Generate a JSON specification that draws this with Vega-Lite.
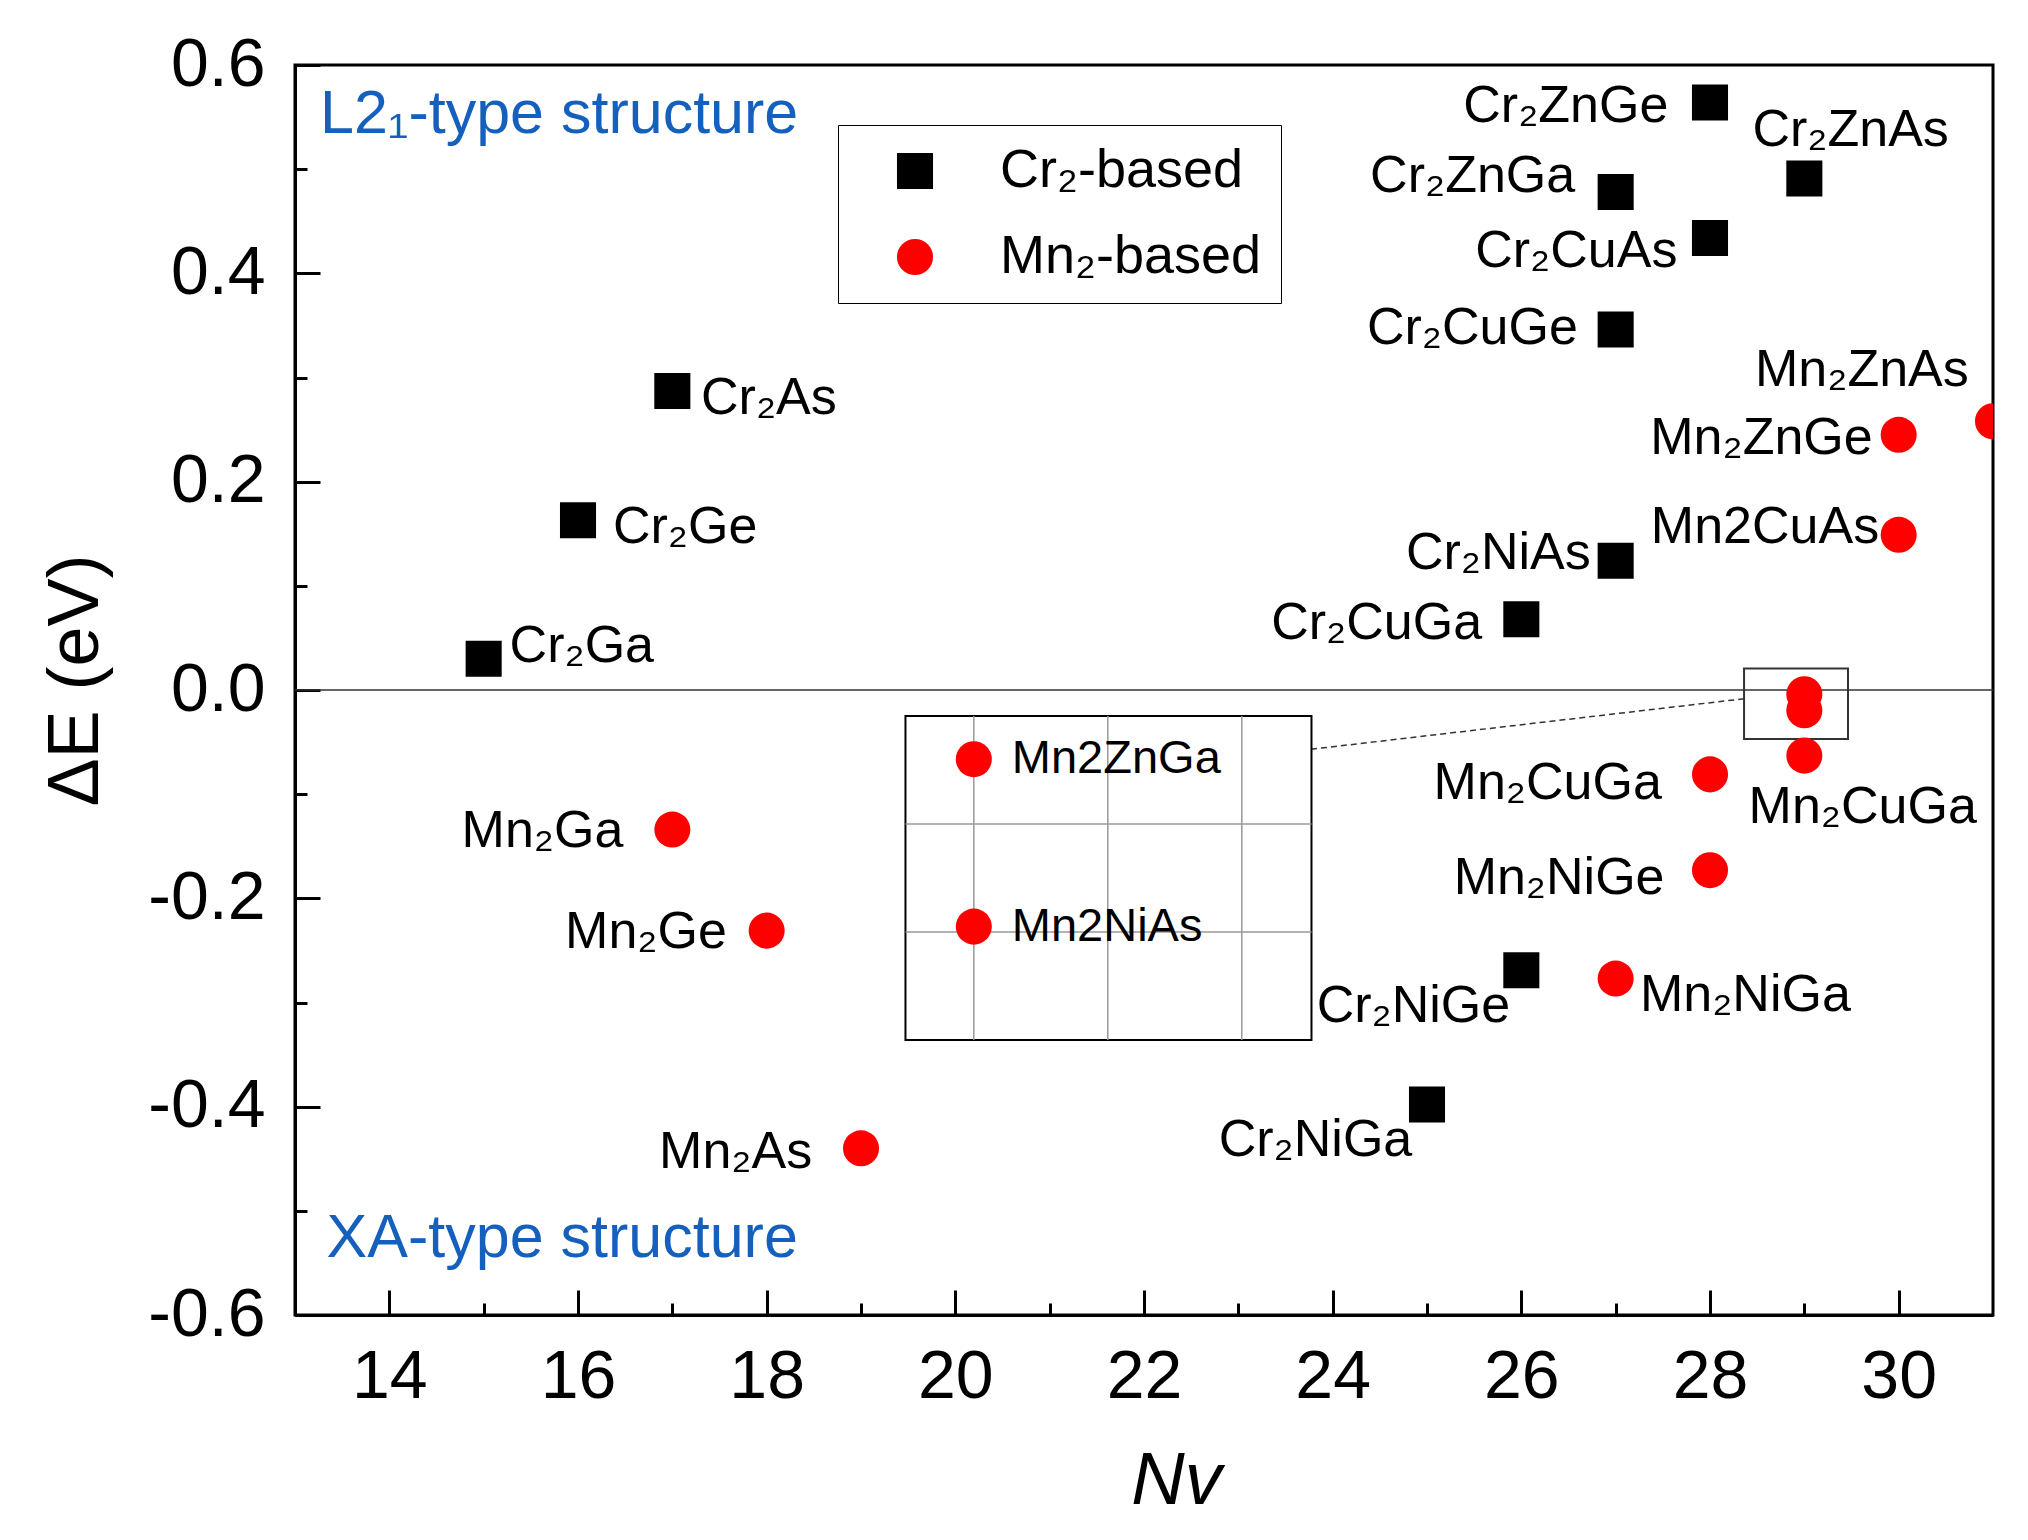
{
  "$schema": "https://vega.github.io/schema/vega-lite/v6.json",
  "width": 1698,
  "height": 1250,
  "autosize": {"type": "none"},
  "padding": {"left": 295, "top": 65, "right": 35, "bottom": 225},
  "background": "white",
  "config": {
    "font": "Liberation Sans",
    "view": {"stroke": "black", "strokeWidth": 3},
    "axis": {"domainColor": "black", "domainWidth": 3, "tickColor": "black", "labelColor": "black", "titleColor": "black", "grid": false, "labelFont": "Liberation Sans", "titleFont": "Liberation Sans", "titleFontWeight": "normal", "labelFlush": false, "labelOverlap": false}
  },
  "data": {"values": [{}]},
  "datasets": {
    "pts": [
      {"name": "Cr₂Ga", "group": "Cr₂-based", "nv": 15, "de": 0.030, "side": "R", "lx": 15.275, "ly": 0.0267},
      {"name": "Cr₂Ge", "group": "Cr₂-based", "nv": 16, "de": 0.163, "side": "R", "lx": 16.371, "ly": 0.1408},
      {"name": "Cr₂As", "group": "Cr₂-based", "nv": 17, "de": 0.287, "side": "R", "lx": 17.304, "ly": 0.2649},
      {"name": "Cr₂ZnGe", "group": "Cr₂-based", "nv": 28, "de": 0.564, "side": "L", "lx": 27.559, "ly": 0.5454},
      {"name": "Cr₂ZnAs", "group": "Cr₂-based", "nv": 29, "de": 0.491, "side": "R", "lx": 28.450, "ly": 0.5218},
      {"name": "Cr₂ZnGa", "group": "Cr₂-based", "nv": 27, "de": 0.478, "side": "L", "lx": 26.571, "ly": 0.4784},
      {"name": "Cr₂CuAs", "group": "Cr₂-based", "nv": 28, "de": 0.434, "side": "L", "lx": 27.655, "ly": 0.4064},
      {"name": "Cr₂CuGe", "group": "Cr₂-based", "nv": 27, "de": 0.346, "side": "L", "lx": 26.599, "ly": 0.3319},
      {"name": "Cr₂NiAs", "group": "Cr₂-based", "nv": 27, "de": 0.124, "side": "L", "lx": 26.736, "ly": 0.1160},
      {"name": "Cr₂CuGa", "group": "Cr₂-based", "nv": 26, "de": 0.068, "side": "L", "lx": 25.584, "ly": 0.0490},
      {"name": "Cr₂NiGe", "group": "Cr₂-based", "nv": 26, "de": -0.269, "side": "R", "lx": 23.830, "ly": -0.3183},
      {"name": "Cr₂NiGa", "group": "Cr₂-based", "nv": 25, "de": -0.398, "side": "L", "lx": 24.844, "ly": -0.4474},
      {"name": "Mn₂ZnAs", "group": "Mn₂-based", "nv": 31, "de": 0.258, "side": "R", "lx": 28.477, "ly": 0.2922},
      {"name": "Mn₂ZnGe", "group": "Mn₂-based", "nv": 30, "de": 0.245, "side": "L", "lx": 29.725, "ly": 0.2265},
      {"name": "Mn2CuAs", "group": "Mn₂-based", "nv": 30, "de": 0.149, "side": "L", "lx": 29.793, "ly": 0.1408},
      {"name": "Mn2ZnGa", "group": "Mn₂-based", "nv": 29, "de": -0.004, "side": "none", "lx": 29, "ly": -0.004},
      {"name": "Mn2NiAs", "group": "Mn₂-based", "nv": 29, "de": -0.0195, "side": "none", "lx": 29, "ly": -0.0195},
      {"name": "Mn₂CuGa", "group": "Mn₂-based", "nv": 29, "de": -0.063, "side": "R", "lx": 28.409, "ly": -0.1272},
      {"name": "Mn₂CuGa", "group": "Mn₂-based", "nv": 28, "de": -0.081, "side": "L", "lx": 27.490, "ly": -0.1049},
      {"name": "Mn₂NiGe", "group": "Mn₂-based", "nv": 28, "de": -0.173, "side": "L", "lx": 27.518, "ly": -0.1955},
      {"name": "Mn₂NiGa", "group": "Mn₂-based", "nv": 27, "de": -0.277, "side": "R", "lx": 27.257, "ly": -0.3084},
      {"name": "Mn₂Ga", "group": "Mn₂-based", "nv": 17, "de": -0.134, "side": "L", "lx": 16.481, "ly": -0.1508},
      {"name": "Mn₂Ge", "group": "Mn₂-based", "nv": 18, "de": -0.231, "side": "L", "lx": 17.578, "ly": -0.2476},
      {"name": "Mn₂As", "group": "Mn₂-based", "nv": 19, "de": -0.440, "side": "L", "lx": 18.483, "ly": -0.4586}
    ]
  },
  "layer": [
    {
      "layer": [
        {
          "mark": {"type": "rule", "color": "#333333", "strokeWidth": 1.5},
          "encoding": {
            "y": {"datum": 0, "type": "quantitative", "scale": {"domain": [-0.6, 0.6], "nice": false, "zero": false}, "axis": null}
          }
        },
        {
          "mark": {"type": "rect", "fill": null, "fillOpacity": 0, "stroke": "#333333", "strokeWidth": 2},
          "encoding": {
            "x": {"datum": 28.361, "type": "quantitative", "scale": {"domain": [13, 31], "nice": false, "zero": false}, "axis": null},
            "x2": {"datum": 29.463},
            "y": {"datum": 0.0206, "type": "quantitative", "scale": {"domain": [-0.6, 0.6], "nice": false, "zero": false}, "axis": null},
            "y2": {"datum": -0.047}
          }
        },
        {
          "mark": {"type": "rule", "color": "#333333", "strokeWidth": 1.5, "strokeDash": [6, 4]},
          "encoding": {
            "x": {"datum": 23.771, "type": "quantitative", "scale": {"domain": [13, 31], "nice": false, "zero": false}, "axis": null},
            "x2": {"datum": 28.361},
            "y": {"datum": -0.0569, "type": "quantitative", "scale": {"domain": [-0.6, 0.6], "nice": false, "zero": false}, "axis": null},
            "y2": {"datum": -0.0084}
          }
        },
        {
          "mark": {"type": "text", "text": "L2₁-type structure", "color": "#1560BD", "fontSize": 61, "align": "left", "baseline": "alphabetic"},
          "encoding": {
            "x": {"datum": 13.265, "type": "quantitative", "scale": {"domain": [13, 31], "nice": false, "zero": false}, "axis": null},
            "y": {"datum": 0.5344, "type": "quantitative", "scale": {"domain": [-0.6, 0.6], "nice": false, "zero": false}, "axis": null}
          }
        },
        {
          "mark": {"type": "text", "text": "XA-type structure", "color": "#1560BD", "fontSize": 61, "align": "left", "baseline": "alphabetic"},
          "encoding": {
            "x": {"datum": 13.335, "type": "quantitative", "scale": {"domain": [13, 31], "nice": false, "zero": false}, "axis": null},
            "y": {"datum": -0.5443, "type": "quantitative", "scale": {"domain": [-0.6, 0.6], "nice": false, "zero": false}, "axis": null}
          }
        },
        {
          "data": {"name": "pts"},
          "mark": {"type": "point", "filled": true, "size": 1300, "opacity": 1, "strokeWidth": 0, "clip": true},
          "encoding": {
            "x": {"field": "nv", "type": "quantitative", "scale": {"domain": [13, 31], "nice": false, "zero": false},
              "axis": {"orient": "bottom", "values": [14, 16, 18, 20, 22, 24, 26, 28, 30], "tickSize": -25, "tickWidth": 3, "labelFontSize": 68, "labelPadding": 53, "title": "Nv", "titleFontSize": 74, "titleFontStyle": "italic", "titlePadding": 34, "titleX": 881}},
            "y": {"field": "de", "type": "quantitative", "scale": {"domain": [-0.6, 0.6], "nice": false, "zero": false},
              "axis": {"orient": "left", "values": [-0.6, -0.4, -0.2, 0, 0.2, 0.4, 0.6], "tickSize": -25, "tickWidth": 3, "labelFontSize": 68, "labelPadding": 55, "labelExpr": "replace(format(datum.value, '.1f'), '−', '-')", "title": "ΔE (eV)", "titleFontSize": 72, "titlePadding": 35, "titleY": 615}},
            "color": {"field": "group", "type": "nominal", "scale": {"domain": ["Cr₂-based", "Mn₂-based"], "range": ["#000000", "#FF0000"]},
              "legend": {"title": null, "orient": "none", "legendX": 543, "legendY": 60, "padding": 19, "strokeColor": "black", "fillColor": "white", "symbolSize": 1300, "symbolStrokeWidth": 0, "labelFontSize": 54, "labelFont": "Liberation Sans", "labelColor": "black", "labelLimit": 1000, "rowPadding": 32, "symbolOffset": 31, "labelOffset": 58, "encode": {"legend": {"update": {"strokeWidth": {"value": 2}}}}}},
            "shape": {"field": "group", "type": "nominal", "scale": {"domain": ["Cr₂-based", "Mn₂-based"], "range": ["square", "circle"]},
              "legend": {"title": null, "orient": "none", "legendX": 543, "legendY": 60, "padding": 19, "strokeColor": "black", "fillColor": "white", "symbolSize": 1300, "symbolStrokeWidth": 0, "labelFontSize": 54, "labelFont": "Liberation Sans", "labelColor": "black", "labelLimit": 1000, "rowPadding": 32, "symbolOffset": 31, "labelOffset": 58, "encode": {"legend": {"update": {"strokeWidth": {"value": 2}}}}}}
          }
        },
        {
          "data": {"name": "pts"},
          "transform": [{"filter": "datum.side == 'L'"}],
          "mark": {"type": "text", "fontSize": 52, "align": "right", "baseline": "alphabetic", "color": "black"},
          "encoding": {
            "x": {"field": "lx", "type": "quantitative", "scale": {"domain": [13, 31], "nice": false, "zero": false},
              "axis": {"orient": "bottom", "values": [15, 17, 19, 21, 23, 25, 27, 29], "tickSize": -12, "tickWidth": 3, "labels": false, "domain": false, "title": null}},
            "y": {"field": "ly", "type": "quantitative", "scale": {"domain": [-0.6, 0.6], "nice": false, "zero": false},
              "axis": {"orient": "left", "values": [-0.5, -0.3, -0.1, 0.1, 0.3, 0.5], "tickSize": -12, "tickWidth": 3, "labels": false, "domain": false, "title": null}},
            "text": {"field": "name"}
          }
        },
        {
          "data": {"name": "pts"},
          "transform": [{"filter": "datum.side == 'R'"}],
          "mark": {"type": "text", "fontSize": 52, "align": "left", "baseline": "alphabetic", "color": "black"},
          "encoding": {
            "x": {"field": "lx", "type": "quantitative", "scale": {"domain": [13, 31], "nice": false, "zero": false}, "axis": null},
            "y": {"field": "ly", "type": "quantitative", "scale": {"domain": [-0.6, 0.6], "nice": false, "zero": false}, "axis": null},
            "text": {"field": "name"}
          }
        }
      ],
      "resolve": {"axis": {"x": "independent", "y": "independent"}}
    },
    {
      "layer": [
        {
          "mark": {"type": "rect", "fill": "white", "stroke": "black", "strokeWidth": 2},
          "encoding": {
            "x": {"datum": 28.949, "type": "quantitative", "scale": {"domain": [28.49343, 29.76059], "nice": false, "zero": false}, "axis": null},
            "x2": {"datum": 29.252},
            "y": {"datum": 0, "type": "quantitative", "scale": {"domain": [-0.055463, 0.060278], "nice": false, "zero": false}, "axis": null},
            "y2": {"datum": -0.03}
          }
        },
        {
          "mark": {"type": "rule", "color": "#999999", "strokeWidth": 1.5},
          "encoding": {
            "x": {"datum": 29, "type": "quantitative", "scale": {"domain": [28.49343, 29.76059], "nice": false, "zero": false}, "axis": null},
            "y": {"datum": 0, "type": "quantitative", "scale": {"domain": [-0.055463, 0.060278], "nice": false, "zero": false}, "axis": null},
            "y2": {"datum": -0.03}
          }
        },
        {
          "mark": {"type": "rule", "color": "#999999", "strokeWidth": 1.5},
          "encoding": {
            "x": {"datum": 29.1, "type": "quantitative", "scale": {"domain": [28.49343, 29.76059], "nice": false, "zero": false}, "axis": null},
            "y": {"datum": 0, "type": "quantitative", "scale": {"domain": [-0.055463, 0.060278], "nice": false, "zero": false}, "axis": null},
            "y2": {"datum": -0.03}
          }
        },
        {
          "mark": {"type": "rule", "color": "#999999", "strokeWidth": 1.5},
          "encoding": {
            "x": {"datum": 29.2, "type": "quantitative", "scale": {"domain": [28.49343, 29.76059], "nice": false, "zero": false}, "axis": null},
            "y": {"datum": 0, "type": "quantitative", "scale": {"domain": [-0.055463, 0.060278], "nice": false, "zero": false}, "axis": null},
            "y2": {"datum": -0.03}
          }
        },
        {
          "mark": {"type": "rule", "color": "#999999", "strokeWidth": 1.5},
          "encoding": {
            "x": {"datum": 28.949, "type": "quantitative", "scale": {"domain": [28.49343, 29.76059], "nice": false, "zero": false}, "axis": null},
            "x2": {"datum": 29.252},
            "y": {"datum": -0.01, "type": "quantitative", "scale": {"domain": [-0.055463, 0.060278], "nice": false, "zero": false}, "axis": null}
          }
        },
        {
          "mark": {"type": "rule", "color": "#999999", "strokeWidth": 1.5},
          "encoding": {
            "x": {"datum": 28.949, "type": "quantitative", "scale": {"domain": [28.49343, 29.76059], "nice": false, "zero": false}, "axis": null},
            "x2": {"datum": 29.252},
            "y": {"datum": -0.02, "type": "quantitative", "scale": {"domain": [-0.055463, 0.060278], "nice": false, "zero": false}, "axis": null}
          }
        },
        {
          "data": {"name": "pts"},
          "transform": [{"filter": "datum.nv == 29 && datum.de > -0.03 && datum.de < 0.01"}],
          "mark": {"type": "point", "filled": true, "shape": "circle", "size": 1300, "color": "#FF0000", "opacity": 1, "strokeWidth": 0},
          "encoding": {
            "x": {"field": "nv", "type": "quantitative", "scale": {"domain": [28.49343, 29.76059], "nice": false, "zero": false},
              "axis": {"orient": "bottom", "offset": -275, "values": [29, 29.1, 29.2], "tickSize": -25, "tickWidth": 2, "labels": false, "domain": false, "title": null}},
            "y": {"field": "de", "type": "quantitative", "scale": {"domain": [-0.055463, 0.060278], "nice": false, "zero": false},
              "axis": {"orient": "left", "offset": -610.5, "values": [-0.01, -0.02], "tickSize": -25, "tickWidth": 2, "labels": false, "domain": false, "title": null}}
          }
        },
        {
          "data": {"name": "pts"},
          "transform": [{"filter": "datum.nv == 29 && datum.de > -0.03 && datum.de < 0.01"}],
          "mark": {"type": "text", "fontSize": 47, "align": "left", "baseline": "middle", "dx": 38, "color": "black"},
          "encoding": {
            "x": {"field": "nv", "type": "quantitative", "scale": {"domain": [28.49343, 29.76059], "nice": false, "zero": false},
              "axis": {"orient": "bottom", "offset": -275, "values": [29.05, 29.15], "tickSize": -12, "tickWidth": 2, "labels": false, "domain": false, "title": null}},
            "y": {"field": "de", "type": "quantitative", "scale": {"domain": [-0.055463, 0.060278], "nice": false, "zero": false},
              "axis": {"orient": "left", "offset": -610.5, "values": [-0.005, -0.015, -0.025], "tickSize": -12, "tickWidth": 2, "labels": false, "domain": false, "title": null}},
            "text": {"field": "name"}
          }
        }
      ],
      "resolve": {"axis": {"x": "independent", "y": "independent"}}
    }
  ],
  "resolve": {"scale": {"x": "independent", "y": "independent"}}
}
